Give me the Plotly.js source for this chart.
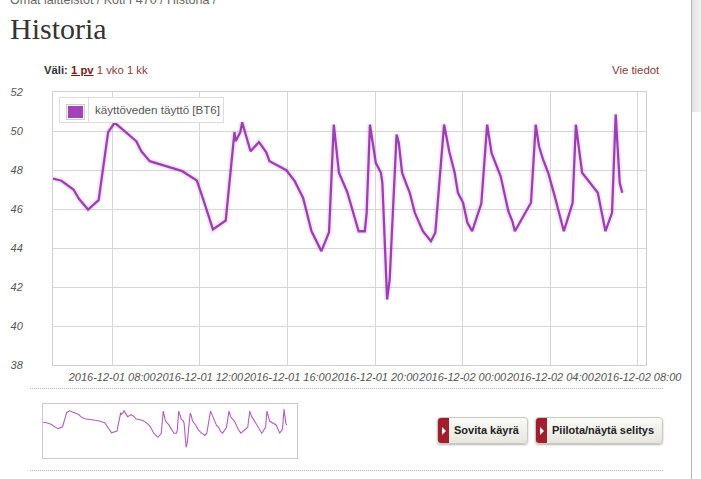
<!DOCTYPE html>
<html>
<head>
<meta charset="utf-8">
<script src="https://cdn.plot.ly/plotly-3.0.1.min.js"></script>
<style>
  html, body { margin:0; padding:0; width:701px; height:479px; overflow:hidden; background:#fff; font-family:"Liberation Sans", Arial, sans-serif; }
  .abs { position:absolute; white-space:nowrap; }
  #chart { position:absolute; left:0; top:0; width:701px; height:479px; }
  #mini { position:absolute; left:42px; top:403px; width:256px; height:56px; border:1px solid #c8c8c8; box-sizing:border-box; }
  #crumb { left:10px; top:-6px; font-size:12.5px; line-height:13px; color:#666; }
  #title { left:10px; top:12px; font-family:"Liberation Serif", "DejaVu Serif", serif; font-size:30px; color:#333; }
  #vali { left:44px; top:64px; font-size:11.3px; color:#8b3a3a; }
  #vali b { color:#333; }
  #vali u { color:#7a1a1a; font-weight:bold; }
  #vie { left:612px; top:64px; font-size:11.4px; color:#8b3a3a; }
  #legend { left:59px; top:97px; width:165px; height:26px; border:1px solid #ddd; box-sizing:border-box; background:#fff; }
  #legend .sw { position:absolute; left:6px; top:6px; width:15px; height:12px; border:1px solid #ccc; padding:1px; box-sizing:content-box; }
  #legend .sw div { width:15px; height:12px; background:#a342b8; }
  #legend .dv { position:absolute; left:28px; top:0; width:1px; height:24px; background:#ddd; }
  #legend .tx { position:absolute; left:35px; top:5px; font-size:11.6px; color:#555; }
  .dots { position:absolute; left:30px; width:633px; height:0; border-top:1px dotted #bbb; }
  .btn { position:absolute; height:27px; border:1px solid #c9c9c0; border-radius:4px; box-sizing:border-box;
         background:linear-gradient(#fbfbf7, #e6e6de); box-shadow:0 1px 2px rgba(0,0,0,0.3); overflow:hidden; }
  .btn .st { position:absolute; left:0; top:0; width:11px; height:100%; background:#a21d2e; }
  .btn .ar { position:absolute; left:4px; top:9px; width:0; height:0; border-top:4px solid transparent; border-bottom:4px solid transparent; border-left:4px solid #fff; }
  .btn .lb { position:absolute; left:16px; top:6px; font-size:11px; font-weight:bold; color:#222; }
  #vline { position:absolute; left:691px; top:0; width:1px; height:479px; background:#b5b5b5; }
  #vshade { position:absolute; left:692px; top:0; width:9px; height:112px; background:linear-gradient(to right,#e4e4e4,#f2f2f2); }
</style>
</head>
<body>
<div id="chart"></div>
<div id="crumb" class="abs">Omat laitteistot / Koti I 470 / Historia /</div>
<div id="title" class="abs">Historia</div>
<div id="vali" class="abs"><b>Väli:</b> <u>1 pv</u> 1 vko 1 kk</div>
<div id="vie" class="abs">Vie tiedot</div>
<div id="legend" class="abs"><div class="sw"><div></div></div><div class="dv"></div><div class="tx" id="legtext"></div></div>
<div class="dots" style="top:388px"></div>
<div class="dots" style="top:470px"></div>
<div id="mini"></div>
<div class="btn" style="left:437px;top:417px;width:91px"><div class="st"></div><div class="ar"></div><div class="lb">Sovita käyrä</div></div>
<div class="btn" style="left:535px;top:417px;width:128px"><div class="st"></div><div class="ar"></div><div class="lb">Piilota/näytä selitys</div></div>
<div id="vline"></div>
<div id="vshade"></div>
<script>
const seriesName = "käyttöveden täyttö [BT6]";
const times = [
"2016-12-01 05:18","2016-12-01 05:41","2016-12-01 06:14","2016-12-01 06:29","2016-12-01 06:54","2016-12-01 07:23",
"2016-12-01 07:49","2016-12-01 08:07","2016-12-01 08:34","2016-12-01 09:06","2016-12-01 09:20","2016-12-01 09:43",
"2016-12-01 11:12","2016-12-01 11:52","2016-12-01 12:11","2016-12-01 12:36","2016-12-01 13:11","2016-12-01 13:35",
"2016-12-01 13:38","2016-12-01 13:51","2016-12-01 13:56","2016-12-01 14:09","2016-12-01 14:19","2016-12-01 14:42",
"2016-12-01 15:02","2016-12-01 15:11","2016-12-01 15:57","2016-12-01 16:20","2016-12-01 16:43","2016-12-01 17:06",
"2016-12-01 17:33","2016-12-01 17:54","2016-12-01 18:07","2016-12-01 18:21","2016-12-01 18:31","2016-12-01 18:44",
"2016-12-01 19:15","2016-12-01 19:32","2016-12-01 19:37","2016-12-01 19:46","2016-12-01 20:02","2016-12-01 20:16",
"2016-12-01 20:20","2016-12-01 20:33","2016-12-01 20:40","2016-12-01 20:59","2016-12-01 21:05","2016-12-01 21:14",
"2016-12-01 21:26","2016-12-01 21:35","2016-12-01 21:49","2016-12-01 22:11","2016-12-01 22:33","2016-12-01 22:45",
"2016-12-01 23:09","2016-12-01 23:23","2016-12-01 23:38","2016-12-01 23:47","2016-12-02 00:01","2016-12-02 00:13",
"2016-12-02 00:26","2016-12-02 00:51","2016-12-02 01:07","2016-12-02 01:19","2016-12-02 01:33","2016-12-02 01:44",
"2016-12-02 02:05","2016-12-02 02:16","2016-12-02 02:23","2016-12-02 03:07","2016-12-02 03:20","2016-12-02 03:29",
"2016-12-02 03:40","2016-12-02 03:54","2016-12-02 04:12","2016-12-02 04:37","2016-12-02 05:01","2016-12-02 05:10",
"2016-12-02 05:27","2016-12-02 05:44","2016-12-02 06:10","2016-12-02 06:31","2016-12-02 06:49","2016-12-02 06:59",
"2016-12-02 07:10","2016-12-02 07:17"];
const temps = [
47.56,47.45,47.00,46.52,45.97,46.45,
49.94,50.42,49.99,49.48,48.96,48.45,
47.94,47.46,46.40,44.95,45.41,49.94,
49.48,49.94,50.45,49.56,48.96,49.43,
48.91,48.45,47.99,47.43,46.57,44.86,
43.84,44.81,50.33,47.86,47.38,46.86,
44.86,44.86,45.80,50.33,48.37,47.86,
47.34,41.36,42.38,49.82,49.39,47.86,
47.26,46.83,45.80,44.86,44.35,44.78,
50.33,48.96,47.86,46.83,46.32,45.29,
44.86,46.28,50.33,48.88,48.20,47.68,
45.89,45.37,44.86,46.32,50.33,49.22,
48.54,47.86,46.66,44.86,46.32,50.33,
47.86,47.43,46.83,44.86,45.80,50.85,
47.34,46.83];
const xRange = ["2016-12-01 05:18", "2016-12-02 08:22"];
const yRange = [38, 52];
const xTickFormat = "%Y-%m-%d %H:%M";

document.getElementById("legtext").textContent = seriesName;

const tickFont = {family:"Liberation Sans, Arial, sans-serif", size:11, color:"#555", style:"italic"};
const traces = [
  {x:times, y:temps, type:"scatter", mode:"lines", hoverinfo:"skip", showlegend:false,
   line:{color:"rgba(160,64,180,0.12)", width:6}},
  {x:times, y:temps, type:"scatter", mode:"lines", name:seriesName, showlegend:false,
   line:{color:"#9d3fb3", width:2.3}}
];
const layout = {
  width:701, height:479,
  margin:{l:53, r:55, t:92, b:114, pad:0},
  paper_bgcolor:"rgba(0,0,0,0)", plot_bgcolor:"#fff",
  showlegend:false,
  xaxis:{type:"date", range:xRange, tickmode:"linear", tick0:"2016-12-01 00:00", dtick:4*3600000,
         tickformat:xTickFormat, tickangle:0, tickfont:tickFont, ticks:"", ticklabelstandoff:2,
         showgrid:true, gridcolor:"#d6d6d6", gridwidth:1, showline:true, linecolor:"#cfcfcf", linewidth:1, mirror:true, zeroline:false, fixedrange:true},
  yaxis:{range:yRange, tickmode:"linear", tick0:38, dtick:2, tickfont:tickFont, ticks:"", ticklabelstandoff:27,
         showgrid:true, gridcolor:"#d6d6d6", gridwidth:1, showline:true, linecolor:"#cfcfcf", linewidth:1, mirror:true, zeroline:false, fixedrange:true}
};
Plotly.newPlot("chart", traces, layout, {staticPlot:true, displayModeBar:false});

const miniLayout = {
  width:254, height:54, margin:{l:0, r:0, t:0, b:0, pad:0},
  paper_bgcolor:"#fff", plot_bgcolor:"#fff", showlegend:false,
  xaxis:{type:"date", range:xRange, visible:false, fixedrange:true},
  yaxis:{range:[38.7, 52.1], visible:false, fixedrange:true}
};
Plotly.newPlot("mini", [{x:times, y:temps, type:"scatter", mode:"lines", line:{color:"#b25cc2", width:1.1}, showlegend:false}],
  miniLayout, {staticPlot:true, displayModeBar:false});
</script>
</body>
</html>
